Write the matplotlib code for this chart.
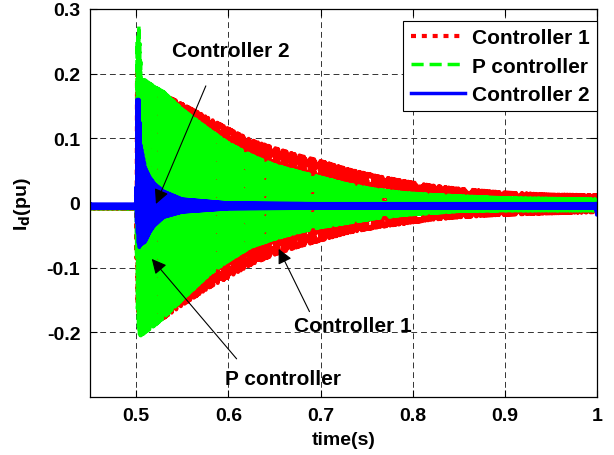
import numpy as np
import matplotlib.pyplot as plt

# envelope (time in s, current in pu)
t_c1 = [0.45, 0.4999, 0.501, 0.505, 0.515, 0.53, 0.55, 0.58, 0.60, 0.625, 0.65, 0.675,
        0.70, 0.73, 0.76, 0.79, 0.82, 0.85, 0.90, 0.95, 1.00]
up_c1 = [-0.004, -0.004, 0.20, 0.18, 0.178, 0.168, 0.153, 0.13, 0.115, 0.097, 0.085, 0.074,
         0.065, 0.052, 0.042, 0.034, 0.027, 0.022, 0.016, 0.013, 0.012]
lo_c1 = [-0.009, -0.009, -0.15, -0.20, -0.19, -0.178, -0.158, -0.13, -0.115, -0.095, -0.080, -0.068,
         -0.058, -0.046, -0.038, -0.032, -0.026, -0.022, -0.018, -0.016, -0.014]

t_p = [0.45, 0.4999, 0.501, 0.503, 0.506, 0.51, 0.52, 0.53, 0.55, 0.58, 0.60, 0.625, 0.65, 0.675,
       0.70, 0.73, 0.76, 0.79, 0.82, 0.85, 0.90, 0.95, 1.00]
up_p = [-0.004, -0.004, 0.25, 0.275, 0.19, 0.19, 0.18, 0.172, 0.145, 0.113, 0.093, 0.074, 0.059, 0.049,
        0.040, 0.029, 0.021, 0.016, 0.013, 0.011, 0.008, 0.007, 0.006]
lo_p = [-0.009, -0.009, -0.15, -0.205, -0.205, -0.20, -0.19, -0.178, -0.15, -0.11, -0.09, -0.068, -0.056, -0.046,
        -0.038, -0.031, -0.024, -0.019, -0.016, -0.013, -0.012, -0.012, -0.012]

t_c2 = [0.45, 0.4999, 0.5005, 0.503, 0.505, 0.51, 0.515, 0.52, 0.53, 0.55, 0.60, 0.70, 0.80, 0.90, 0.998, 1.0]
up_c2 = [-0.002, -0.002, 0.16, 0.16, 0.09, 0.055, 0.04, 0.03, 0.018, 0.006, 0.0, -0.001, -0.001, -0.001, -0.001, -0.001]
lo_c2 = [-0.008, -0.008, -0.03, -0.07, -0.065, -0.06, -0.045, -0.035, -0.022, -0.014, -0.009, -0.008, -0.008, -0.008, -0.008, -0.022]

DT = 0.0005


def zigzag(tk, up, lo):
    t = np.arange(0.45, 1.0 + DT / 2, DT)
    hi = np.interp(t, tk, up)
    lw = np.interp(t, tk, lo)
    y = np.where(np.arange(t.size) % 2 == 0, hi, lw)
    return t, y


plt.rcParams['font.family'] = ['Liberation Sans', 'DejaVu Sans']
plt.rcParams['font.weight'] = 'bold'
plt.rcParams['mathtext.default'] = 'bf'

fig = plt.figure(figsize=(6.14, 4.56), dpi=100)
ax = fig.add_axes([0.1466, 0.1272, 0.826, 0.851])

t1, y1 = zigzag(t_c1, up_c1, lo_c1)
t2, y2 = zigzag(t_p, up_p, lo_p)
t3, y3 = zigzag(t_c2, up_c2, lo_c2)
ax.plot(t1, y1, color='#ff0000', lw=3.0, linestyle=(0, (1.2, 1.4)), label='Controller 1')
ax.plot(t2, y2, color='#00ff00', lw=2.5, linestyle=(0, (3.5, 1.7)), label='P controller')
ax.plot(t3, y3, color='#0000ff', lw=2.5, label='Controller 2')

ax.set_xlim(0.45, 1.0)
ax.set_ylim(-0.3, 0.3)
ax.set_xticks([0.5, 0.6, 0.7, 0.8, 0.9, 1.0])
ax.set_xticklabels(['0.5', '0.6', '0.7', '0.8', '0.9', '1'], fontweight='bold')
ax.set_yticks([-0.2, -0.1, 0, 0.1, 0.2, 0.3])
ax.set_yticklabels(['-0.2', '-0.1', '0', '0.1', '0.2', '0.3'], fontweight='bold')
ax.tick_params(direction='in', top=True, right=True, length=5, width=0.8, labelsize=14, pad=7)
ax.grid(True, color='#333333', linestyle=(0, (6, 4)), linewidth=0.7)
for s in ax.spines.values():
    s.set_linewidth(0.9)

ax.set_xlabel('time(s)', fontsize=14, fontweight='bold', labelpad=5)
ax.set_ylabel(r'I$_\mathbf{d}$(pu)', fontsize=14, fontweight='bold', labelpad=10)

akw = dict(arrowstyle='-|>', color='k', lw=0.8, mutation_scale=22, shrinkA=0, shrinkB=0)
ax.annotate('', xy=(0.5215, -0.0015), xytext=(0.5756, 0.181), arrowprops=akw)
ax.text(0.603, 0.236, 'Controller 2', fontsize=15, fontweight='bold', ha='center', va='center')
ax.annotate('', xy=(0.517, -0.0865), xytext=(0.609, -0.241), arrowprops=akw)
ax.text(0.659, -0.271, 'P controller', fontsize=15, fontweight='bold', ha='center', va='center')
ax.annotate('', xy=(0.6546, -0.071), xytext=(0.688, -0.168), arrowprops=akw)
ax.text(0.735, -0.189, 'Controller 1', fontsize=15, fontweight='bold', ha='center', va='center')

leg = ax.legend(loc='upper right', bbox_to_anchor=(1.0, 0.969), prop={'size': 15, 'weight': 'bold'},
                frameon=True, fancybox=False, framealpha=1, edgecolor='k', handlelength=2.6,
                handletextpad=0.35, borderaxespad=0, labelspacing=0.45, borderpad=0.35)
leg.get_frame().set_linewidth(0.8)

fig.savefig('out.png', dpi=100)
